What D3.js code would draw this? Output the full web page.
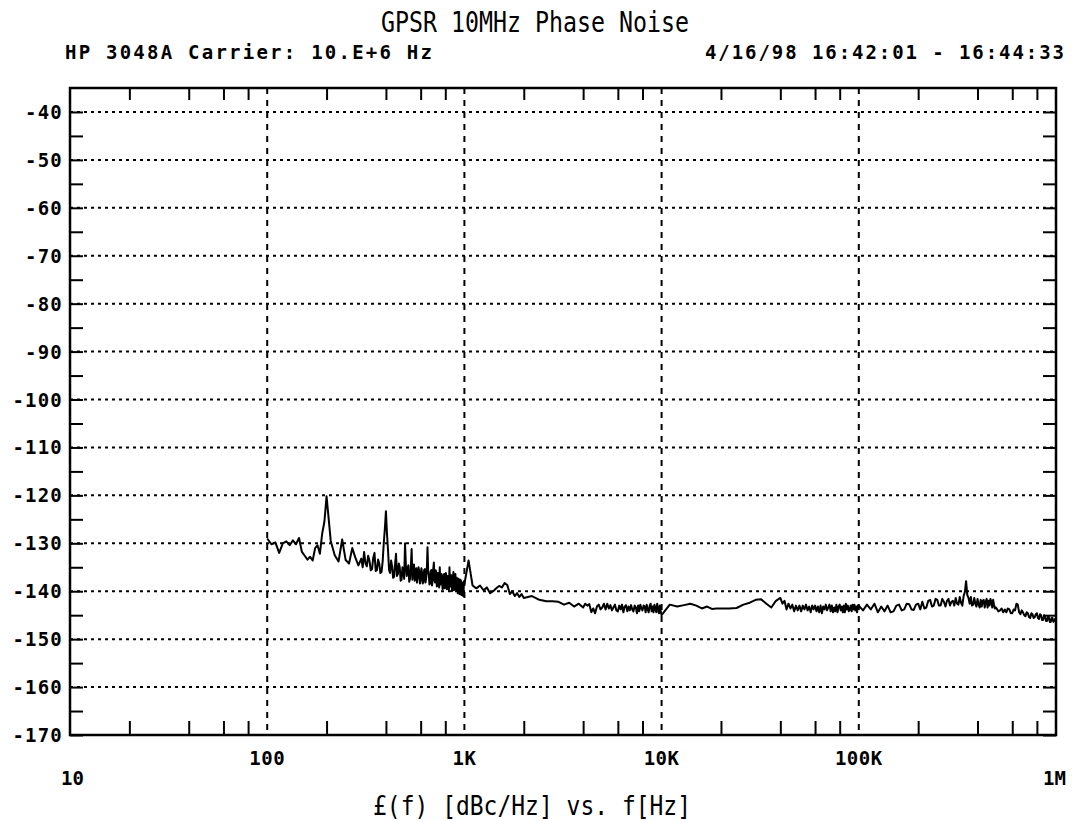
<!DOCTYPE html>
<html>
<head>
<meta charset="utf-8">
<script src="https://cdn.jsdelivr.net/npm/d3@7"></script>
<style>
  body { margin: 0; background: #fff; }
  .plotter { font-family: "DejaVu Sans Mono", monospace; fill: #000; }
  .lbl { font-family: "DejaVu Sans Mono", monospace; font-weight: bold; font-size: 19px; fill: #000; }
</style>
</head>
<body>
<div id="chart"></div>
<script>

// offset frequencies (Hz)
var freqHz = [
  100,105,110,115,120,125,130,135,140,145,
  150,155,160,165,170,175,180,185,190,195,
  200,210,220,230,240,250,260,270,280,290,
  300,305,310,315,320,325,330,335,340,345,
  350,355,360,365,370,375,380,385,390,395,
  400,405,410,415,420,425,430,435,440,445,
  450,455,460,465,470,475,480,485,490,495,
  500,505,510,515,520,525,530,535,540,545,
  550,555,560,565,570,575,580,585,590,595,
  600,605,610,615,620,625,630,635,640,645,
  650,655,660,665,670,675,680,685,690,695,
  700,705,710,715,720,725,730,735,740,745,
  750,755,760,765,770,775,780,785,790,795,
  800,805,810,815,820,825,830,835,840,845,
  850,855,860,865,870,875,880,885,890,895,
  900,905,910,915,920,925,930,935,940,945,
  950,955,960,965,970,975,980,985,990,995,
  1000,1050,1100,1150,1200,1250,1300,1350,1400,1450,
  1500,1550,1600,1650,1700,1750,1800,1850,1900,1950,
  2000,2200,2400,2600,2800,3000,3200,3400,3600,3800,
  4000,4100,4200,4300,4400,4500,4600,4700,4800,4900,
  5000,5100,5200,5300,5400,5500,5600,5700,5800,5900,
  6000,6100,6200,6300,6400,6500,6600,6700,6800,6900,
  7000,7100,7200,7300,7400,7500,7600,7700,7800,7900,
  8000,8100,8200,8300,8400,8500,8600,8700,8800,8900,
  9000,9100,9200,9300,9400,9500,9600,9700,9800,9900,
  10000,11000,12000,13000,14000,15000,16000,17000,18000,19000,
  20000,22000,24000,26000,28000,30000,32000,34000,36000,38000,
  40000,41000,42000,43000,44000,45000,46000,47000,48000,49000,
  50000,51000,52000,53000,54000,55000,56000,57000,58000,59000,
  60000,61000,62000,63000,64000,65000,66000,67000,68000,69000,
  70000,71000,72000,73000,74000,75000,76000,77000,78000,79000,
  80000,81000,82000,83000,84000,85000,86000,87000,88000,89000,
  90000,91000,92000,93000,94000,95000,96000,97000,98000,99000,
  100000,105000,110000,115000,120000,125000,130000,135000,140000,145000,
  150000,155000,160000,165000,170000,175000,180000,185000,190000,195000,
  200000,205000,210000,215000,220000,225000,230000,235000,240000,245000,
  250000,255000,260000,265000,270000,275000,280000,285000,290000,295000,
  300000,305000,310000,315000,320000,325000,330000,335000,340000,345000,
  350000,355000,360000,365000,370000,375000,380000,385000,390000,395000,
  400000,405000,410000,415000,420000,425000,430000,435000,440000,445000,
  450000,455000,460000,465000,470000,475000,480000,485000,490000,495000,
  500000,510000,520000,530000,540000,550000,560000,570000,580000,590000,
  600000,610000,620000,630000,640000,650000,660000,670000,680000,690000,
  700000,710000,720000,730000,740000,750000,760000,770000,780000,790000,
  800000,810000,820000,830000,840000,850000,860000,870000,880000,890000,
  900000,910000,920000,930000,940000,950000,960000,970000,980000,990000,
  1000000
];

// L(f) in dBc/Hz at each frequency above
var noiseDbc = [
  -129.0,-130.2,-129.8,-132.0,-130.0,-129.6,-130.4,-129.4,-130.2,-128.9,
  -131.8,-132.6,-133.4,-132.8,-133.6,-131.0,-130.4,-132.2,-128.0,-125.5,
  -120.2,-129.5,-132.5,-133.8,-129.2,-133.5,-134.2,-131.0,-133.0,-134.6,
  -133.2,-135.0,-131.8,-134.2,-134.8,-132.6,-133.6,-135.6,-135.4,-133.0,
  -132.0,-135.8,-135.6,-133.4,-134.2,-136.2,-136.0,-133.8,-130.0,-127.0,
  -123.3,-128.0,-131.5,-135.6,-136.2,-133.6,-134.8,-137.2,-137.0,-134.4,
  -132.2,-136.8,-136.4,-134.2,-135.0,-137.8,-137.6,-135.0,-136.0,-137.4,
  -130.0,-134.6,-136.8,-135.2,-134.6,-138.0,-137.4,-135.0,-131.2,-137.6,
  -136.0,-134.4,-137.8,-135.6,-135.2,-138.2,-137.0,-135.0,-135.8,-138.4,
  -137.6,-135.2,-136.2,-138.4,-137.9,-135.6,-135.4,-138.2,-137.2,-135.4,
  -130.8,-135.8,-136.6,-138.6,-138.4,-135.8,-135.6,-138.8,-137.8,-135.4,
  -134.0,-137.6,-138.2,-135.6,-136.0,-139.0,-138.8,-136.2,-136.6,-139.2,
  -135.0,-138.4,-138.6,-136.4,-137.0,-139.6,-139.2,-136.6,-136.4,-139.4,
  -138.4,-136.2,-136.8,-139.6,-139.4,-136.8,-137.2,-139.8,-135.0,-138.6,
  -139.0,-136.6,-137.4,-140.0,-139.6,-137.0,-136.0,-139.8,-138.4,-136.8,
  -136.4,-139.6,-139.8,-137.2,-137.6,-140.4,-140.2,-137.4,-138.0,-140.6,
  -139.6,-137.6,-137.8,-140.8,-140.6,-138.2,-138.8,-141.0,-140.2,-138.0,
  -138.5,-133.6,-138.8,-139.4,-138.8,-139.8,-139.2,-140.4,-140.0,-139.4,
  -138.9,-139.2,-138.3,-138.7,-140.6,-140.0,-141.0,-140.4,-141.2,-140.6,
  -141.4,-141.0,-141.8,-142.1,-142.1,-142.2,-142.8,-142.4,-143.2,-142.6,
  -143.4,-142.6,-143.0,-142.7,-144.4,-143.6,-144.6,-143.2,-142.8,-143.8,
  -143.4,-142.6,-143.8,-142.6,-143.6,-142.9,-144.0,-143.4,-142.8,-144.0,
  -144.2,-143.0,-143.8,-142.8,-144.4,-143.2,-142.9,-144.2,-143.2,-144.0,
  -142.9,-143.8,-144.2,-143.0,-143.4,-144.6,-143.0,-144.2,-142.8,-143.6,
  -144.0,-143.0,-143.2,-144.4,-142.8,-143.8,-144.4,-143.0,-142.6,-144.2,
  -143.2,-144.4,-142.8,-143.6,-144.4,-142.6,-143.8,-144.6,-143.0,-144.2,
  -145.0,-142.8,-143.2,-142.9,-142.6,-143.0,-143.6,-143.2,-143.7,-143.6,
  -143.6,-143.6,-143.5,-142.8,-142.4,-141.8,-141.7,-142.6,-143.4,-142.0,
  -141.4,-142.6,-142.0,-143.8,-142.6,-143.6,-142.8,-144.2,-143.0,-144.0,
  -143.0,-144.2,-143.0,-143.8,-142.8,-144.0,-143.2,-144.4,-143.0,-143.8,
  -143.0,-144.2,-143.2,-144.4,-143.0,-144.6,-143.2,-143.8,-142.8,-144.0,
  -143.4,-142.8,-144.2,-143.0,-144.4,-143.4,-144.2,-142.8,-144.4,-143.2,
  -142.8,-144.0,-143.2,-144.4,-143.0,-144.4,-142.6,-143.8,-143.0,-144.2,
  -143.8,-143.0,-144.2,-142.8,-143.8,-142.8,-144.0,-143.2,-144.4,-143.0,
  -143.0,-144.0,-142.8,-143.8,-142.6,-144.4,-143.2,-144.2,-143.0,-144.4,
  -144.2,-143.0,-142.8,-144.0,-143.8,-142.6,-142.7,-143.8,-143.9,-142.8,
  -142.6,-143.8,-142.2,-143.6,-143.4,-142.0,-141.8,-143.2,-143.0,-141.6,
  -141.8,-143.0,-143.0,-141.6,-142.2,-143.2,-142.0,-141.6,-143.0,-142.2,
  -142.0,-143.0,-141.4,-142.6,-142.8,-141.2,-142.4,-143.0,-141.0,-140.2,
  -137.9,-140.8,-141.4,-142.6,-141.2,-143.0,-142.8,-141.4,-142.6,-143.2,
  -141.6,-142.8,-143.4,-141.8,-143.2,-142.0,-141.8,-143.4,-142.2,-141.6,
  -143.4,-142.0,-143.0,-141.6,-142.2,-143.4,-141.8,-142.8,-143.6,-143.4,
  -143.6,-144.2,-144.0,-143.6,-144.4,-143.8,-144.4,-143.6,-143.8,-144.6,
  -144.6,-143.8,-144.0,-142.6,-142.8,-144.4,-144.8,-144.0,-144.4,-145.0,
  -145.2,-144.4,-144.6,-145.4,-145.6,-144.6,-144.8,-145.6,-145.4,-144.8,
  -144.6,-145.6,-145.8,-144.8,-145.0,-146.0,-146.0,-145.0,-145.2,-146.2,
  -146.2,-145.4,-145.4,-146.4,-146.4,-145.6,-145.6,-146.4,-146.2,-145.8,
  -146.0
];

// axis labelling
var yTickValues = [-40,-50,-60,-70,-80,-90,-100,-110,-120,-130,-140,-150,-160,-170];
var yMinorValues = [-45,-55,-65,-75,-85,-95,-105,-115,-125,-135,-145,-155,-165];
var xGridValues = [100, 1000, 10000, 100000];
var xGridLabels = ["100", "1K", "10K", "100K"];
var xMinorValues = [20,40,60,80, 200,400,600,800, 2000,4000,6000,8000,
  20000,40000,60000,80000, 200000,400000,600000,800000];

var titleText = "GPSR 10MHz Phase Noise";
var headerLeft = "HP 3048A  Carrier: 10.E+6 Hz";
var headerRight = "4/16/98  16:42:01 - 16:44:33";
var axisTitle = "£(f) [dBc/Hz] vs. f[Hz]";

var svgWidth = 1072;
var svgHeight = 821;

var margin = { top: 88, right: 16, bottom: 86, left: 70 };
var width = svgWidth - margin.left - margin.right;
var height = svgHeight - margin.top - margin.bottom;

var svg = d3.select("#chart")
  .append("svg")
  .attr("width", svgWidth)
  .attr("height", svgHeight);

var chartGroup = svg.append("g")
  .attr("transform", `translate(${margin.left}, ${margin.top})`);

var xScale = d3.scaleLog()
  .domain([10, 1e6])
  .range([0, width]);

var yScale = d3.scaleLinear()
  .domain([-170, -35])
  .range([height, 0]);

// dotted horizontal grid
chartGroup.append("g")
  .selectAll("line")
  .data(yTickValues.filter(d => d > -170))
  .enter()
  .append("line")
  .attr("x1", 0)
  .attr("x2", width)
  .attr("y1", d => yScale(d))
  .attr("y2", d => yScale(d))
  .attr("stroke", "#000")
  .attr("stroke-width", 2)
  .attr("stroke-dasharray", "3,4");

// dashed vertical grid at the decades
chartGroup.append("g")
  .selectAll("line")
  .data(xGridValues)
  .enter()
  .append("line")
  .attr("x1", d => xScale(d))
  .attr("x2", d => xScale(d))
  .attr("y1", 0)
  .attr("y2", height)
  .attr("stroke", "#000")
  .attr("stroke-width", 2)
  .attr("stroke-dasharray", "6,6");

// inward ticks on all four sides
var leftAxis = d3.axisLeft(yScale)
  .tickValues(yTickValues.concat(yMinorValues))
  .tickSize(-13)
  .tickFormat("");
var rightAxis = d3.axisRight(yScale)
  .tickValues(yTickValues.concat(yMinorValues))
  .tickSize(-13)
  .tickFormat("");
var bottomAxis = d3.axisBottom(xScale)
  .tickValues(xMinorValues)
  .tickSize(-14)
  .tickFormat("");
var topAxis = d3.axisTop(xScale)
  .tickValues(xMinorValues)
  .tickSize(-12)
  .tickFormat("");

chartGroup.append("g").attr("class", "axis").call(leftAxis);
chartGroup.append("g").attr("class", "axis")
  .attr("transform", `translate(${width}, 0)`)
  .call(rightAxis);
chartGroup.append("g").attr("class", "axis")
  .attr("transform", `translate(0, ${height})`)
  .call(bottomAxis);
chartGroup.append("g").attr("class", "axis").call(topAxis);

chartGroup.selectAll(".axis .domain").remove();
chartGroup.selectAll(".axis line")
  .attr("stroke", "#000")
  .attr("stroke-width", 2);

// frame
chartGroup.append("rect")
  .attr("x", 0)
  .attr("y", 0)
  .attr("width", width)
  .attr("height", height)
  .attr("fill", "none")
  .attr("stroke", "#000")
  .attr("stroke-width", 2.5);

// the trace
var traceData = freqHz.map((f, i) => ({ f: f, v: noiseDbc[i] }));

var traceLine = d3.line()
  .x(d => xScale(d.f))
  .y(d => yScale(d.v));

chartGroup.append("path")
  .datum(traceData)
  .attr("d", traceLine)
  .attr("fill", "none")
  .attr("stroke", "#000")
  .attr("stroke-width", 2)
  .attr("stroke-linejoin", "round");

// y labels
chartGroup.append("g")
  .selectAll("text")
  .data(yTickValues)
  .enter()
  .append("text")
  .attr("class", "lbl")
  .attr("x", -7)
  .attr("y", d => yScale(d) + 7)
  .attr("text-anchor", "end")
  .attr("letter-spacing", 1.2)
  .text(d => d);

// decade labels
chartGroup.append("g")
  .selectAll("text")
  .data(xGridValues)
  .enter()
  .append("text")
  .attr("class", "lbl")
  .attr("x", d => xScale(d))
  .attr("y", height + 30)
  .attr("text-anchor", "middle")
  .attr("letter-spacing", 0.5)
  .text((d, i) => xGridLabels[i]);

chartGroup.append("text")
  .attr("class", "lbl")
  .attr("x", -9)
  .attr("y", height + 50)
  .text("10");

chartGroup.append("text")
  .attr("class", "lbl")
  .attr("x", width + 10)
  .attr("y", height + 50)
  .attr("text-anchor", "end")
  .text("1M");

// title and header
svg.append("g")
  .attr("transform", "translate(535, 32) scale(1, 1.15)")
  .append("text")
  .attr("class", "plotter")
  .attr("x", 0)
  .attr("y", 0)
  .attr("text-anchor", "middle")
  .attr("font-size", 24)
  .attr("textLength", 308)
  .attr("lengthAdjust", "spacingAndGlyphs")
  .text(titleText);

svg.append("text")
  .attr("class", "lbl")
  .attr("x", 65)
  .attr("y", 59)
  .attr("textLength", 367)
  .attr("lengthAdjust", "spacing")
  .text(headerLeft);

svg.append("text")
  .attr("class", "lbl")
  .attr("x", 1064)
  .attr("y", 59)
  .attr("text-anchor", "end")
  .attr("textLength", 359)
  .attr("lengthAdjust", "spacing")
  .text(headerRight);

svg.append("g")
  .attr("transform", "translate(532, 815) scale(1, 1.12)")
  .append("text")
  .attr("class", "plotter")
  .attr("x", 0)
  .attr("y", 0)
  .attr("text-anchor", "middle")
  .attr("font-size", 24)
  .attr("textLength", 318)
  .attr("lengthAdjust", "spacingAndGlyphs")
  .text(axisTitle);

</script>
</body>
</html>
